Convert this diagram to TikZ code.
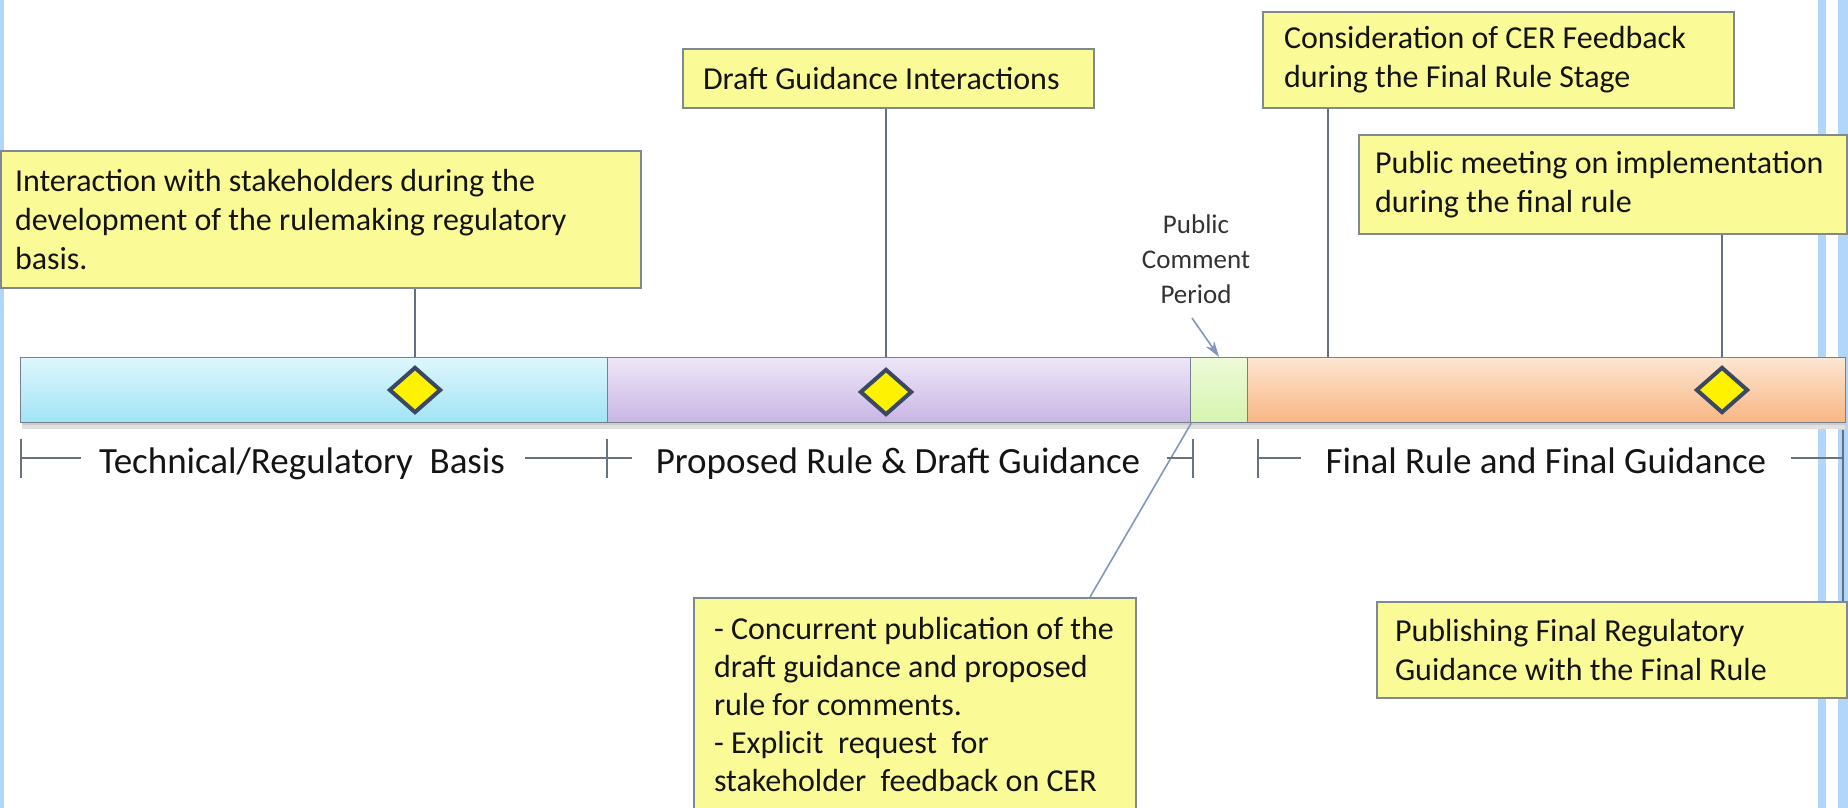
\documentclass[tikz,border=0pt]{standalone}
\usepackage{fontspec}
\setmainfont{Carlito}
\usetikzlibrary{shapes.geometric,arrows.meta}
\newcommand\notl[1]{\mbox{\spaceskip=0pt\xspaceskip=0pt\relax#1}}
\definecolor{boxfill}{RGB}{250,250,150}
\definecolor{boxline}{RGB}{128,136,146}
\definecolor{stripe}{RGB}{178,214,250}
\definecolor{textc}{RGB}{20,20,20}
\definecolor{barline}{RGB}{118,128,142}
\definecolor{msline}{RGB}{58,72,100}
\definecolor{connc}{RGB}{100,112,128}
\definecolor{lconnc}{RGB}{128,152,190}
\definecolor{tickc}{RGB}{105,115,128}
\definecolor{cyanT}{RGB}{222,246,252}
\definecolor{cyanB}{RGB}{160,228,246}
\definecolor{purT}{RGB}{238,230,248}
\definecolor{purB}{RGB}{200,182,228}
\definecolor{grnT}{RGB}{238,250,216}
\definecolor{grnB}{RGB}{214,244,176}
\definecolor{orT}{RGB}{253,230,210}
\definecolor{orB}{RGB}{248,182,130}
\begin{document}
\begin{tikzpicture}[x=0.5pt,y=-0.5pt,
  note/.style={draw=boxline, line width=1pt, fill=boxfill, anchor=north west, align=left,
    inner ysep=0pt, text=textc, font=\fontsize{16}{19.5}\selectfont},
  seg/.style={anchor=north west, minimum height=32.5pt, inner sep=0pt, draw=barline, line width=0.6pt},
  ms/.style={diamond, fill=yellow, draw=msline, line width=2pt, inner sep=0pt,
    minimum width=26pt, minimum height=23pt},
  conn/.style={draw=connc, line width=0.8pt},
  lconn/.style={draw=lconnc, line width=0.8pt},
  tick/.style={draw=tickc, line width=0.8pt},
  phase/.style={font=\fontsize{18.5}{22}\selectfont, anchor=base, text=textc, inner sep=0pt}]
\useasboundingbox (0,0) rectangle (1848,808);
\fill[white] (0,0) rectangle (1848,808);
% side stripes
\fill[stripe] (0,0) rectangle (4,808);
\fill[stripe] (1818,0) rectangle (1826,808);
\fill[stripe] (1838,0) rectangle (1848,808);

% bar shadow
\fill[black!12] (22,422) rectangle (1845,429);
\fill[black!20] (22,422) rectangle (1845,425);

% bar segments
\node[seg, top color=cyanT, bottom color=cyanB, minimum width=293.5pt] (basis) at (20,357) {};
\node[seg, top color=purT, bottom color=purB, minimum width=291.5pt] (proposed) at (607,357) {};
\node[seg, top color=grnT, bottom color=grnB, minimum width=28.5pt] (pcp) at (1190,357) {};
\node[seg, top color=orT, bottom color=orB, minimum width=299pt] (final) at (1247,357) {};

% milestones
\node[ms] (m1) at (415,390) {};
\node[ms] (m2) at (886,392) {};
\node[ms] (m3) at (1722,390) {};

% notes
\node[note, inner xsep=7pt, text width=306pt, minimum height=68.5pt] (A) at (0,150)
  {\notl{Interaction with stakeholders during the}\\\notl{development of the rulemaking regulatory}\\basis.};
\node[note, inner xsep=10pt, text width=185.5pt, minimum height=29.5pt] (B) at (682,48)
  {\notl{Draft Guidance Interactions}};
\node[note, inner xsep=10.5pt, text width=214.5pt, minimum height=48pt] (C) at (1262,11)
  {\notl{Consideration of CER Feedback}\\\notl{during the Final Rule Stage}};
\node[note, inner xsep=8pt, text width=228pt, minimum height=49.5pt] (D) at (1358,134)
  {\notl{Public meeting on implementation}\\\notl{during the final rule}};
\node[note, inner xsep=9pt, text width=217pt, minimum height=48pt] (E) at (1376,601)
  {\notl{Publishing Final Regulatory}\\\notl{Guidance with the Final Rule}};
\node[note, inner xsep=10pt, text width=201pt, minimum height=106.5pt,
  font=\fontsize{16}{19}\selectfont] (F) at (693,597)
  {\notl{- Concurrent publication of the}\\\notl{draft guidance and proposed}\\\notl{rule for comments.}\\\notl{- Explicit\ \ request\ \ for}\\\notl{stakeholder\ \ feedback on CER}};

% public comment label
\node[font=\fontsize{13.5}{17.5}\selectfont, align=center, text=black!80, inner sep=0pt] (pc) at (1196,259)
  {Public\\Comment\\Period};

% connectors
\coordinate (c3) at (1328,357);
\coordinate (eTop) at (1843,430);
\coordinate (fTop) at (1090,597);
\coordinate (pcTail) at (1192,318);
\draw[conn] (A.south -| m1) -- (m1 |- basis.north);
\draw[conn] (B.south -| m2) -- (m2 |- proposed.north);
\draw[conn] (C.south -| c3) -- (c3);
\draw[conn] (D.south -| m3) -- (m3 |- final.north);
\draw[conn] (E.north -| eTop) -- (eTop);
\draw[lconn] (proposed.south east) -- (fTop);
\draw[lconn, -{Stealth[length=8pt,width=5pt]}] (pcTail) -- (pcp.north);

% phase labels
\node[phase] (L1) at (302,473) {Technical/Regulatory\ \ Basis};
\node[phase] (L2) at (898,473) {Proposed Rule \& Draft Guidance};
\node[phase] (L3) at (1546,473) {Final Rule and Final Guidance};

% span brackets
\draw[tick] (21,439) -- (21,478);
\draw[tick] (21,458) -- (81,458);
\draw[tick] (525,458) -- (632,458);
\draw[tick] (607,439) -- (607,478);
\draw[tick] (1167,458) -- (1193,458);
\draw[tick] (1193,439) -- (1193,478);
\draw[tick] (1258,439) -- (1258,478);
\draw[tick] (1258,458) -- (1301,458);
\draw[tick] (1791,458) -- (1843,458);
\end{tikzpicture}
\end{document}
